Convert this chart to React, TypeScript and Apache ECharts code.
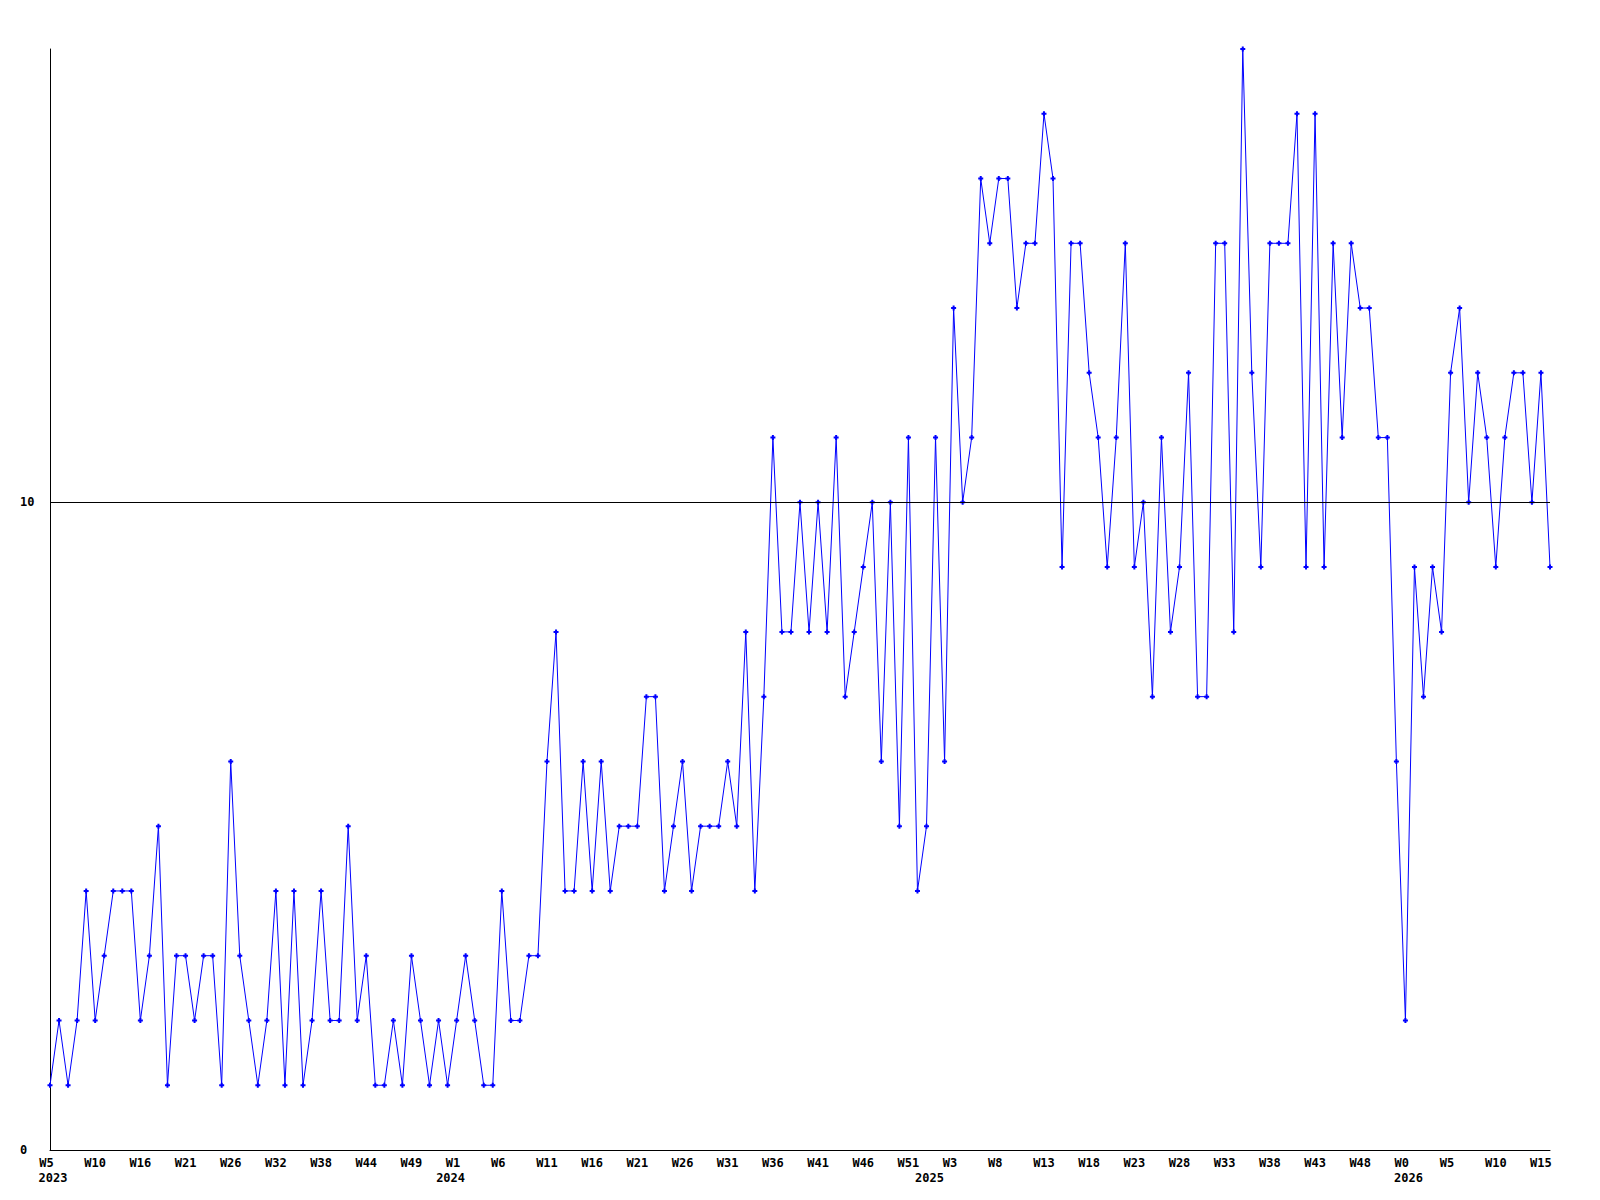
import React, { useEffect, useRef } from 'react';
import * as echarts from 'echarts';

// Weekly values, 2023 W5 .. 2026 W15
const values: number[] = [
  1, 2, 1, 2, 4, 2, 3, 4, 4, 4, 2, 3, 5, 1, 3, 3, 2, 3, 3, 1, 6, 3, 2, 1, 2, 4, 1, 4, 1,
  2, 4, 2, 2, 5, 2, 3, 1, 1, 2, 1, 3, 2, 1, 2, 1, 2, 3, 2, 1, 1, 4, 2, 2, 3, 3, 6,
  8, 4, 4, 6, 4, 6, 4, 5, 5, 5, 7, 7, 4, 5, 6, 4, 5, 5, 5, 6, 5, 8, 4, 7, 11, 8, 8, 10, 8,
  10, 8, 11, 7, 8, 9, 10, 6, 10, 5, 11, 4, 5, 11, 6, 13, 10, 11,
  15, 14, 15, 15, 13, 14, 14, 16, 15, 9, 14, 14, 12, 11, 9, 11, 14, 9, 10, 7, 11, 8, 9, 12, 7, 7, 14,
  14, 8, 17, 12, 9, 14, 14, 14, 16, 9, 16, 9, 14, 11, 14, 13, 13, 11, 11,
  6, 2, 9, 7, 9, 8, 12, 13, 10, 12, 11, 9, 11, 12, 12, 10, 12, 9,
];

// Week tick labels, one every 5 points
const weekTickLabels: string[] = [
  'W5', 'W10', 'W16', 'W21', 'W26', 'W32', 'W38', 'W44', 'W49',
  'W1', 'W6', 'W11', 'W16', 'W21', 'W26', 'W31', 'W36', 'W41', 'W46', 'W51',
  'W3', 'W8', 'W13', 'W18', 'W23', 'W28', 'W33', 'W38', 'W43', 'W48',
  'W0', 'W5', 'W10', 'W15',
];
const weekTickStep = 5;

// Year labels and the point index where each appears
const yearTickLabels: string[] = ['2023', '2024', '2025', '2026'];
const yearTickIndex: number[] = [0, 44, 97, 150];

const yTickLabels = [0, 10];
const refLineValue = 10;

const categories = values.map((_, i) => String(i));

const plusSymbol = 'path://M1.5 0H3.5V1.5H5V3.5H3.5V5H1.5V3.5H0V1.5H1.5Z';

export default function App() {
  const ref = useRef<HTMLDivElement>(null);

  useEffect(() => {
    if (!ref.current) return;
    const chart = echarts.init(ref.current, null, { renderer: 'svg' });
    const font = {
      fontFamily: 'DejaVu Sans Mono',
      fontWeight: 'bold' as const,
      fontSize: 12,
      color: '#000000',
    };
    chart.setOption({
      animation: false,
      backgroundColor: '#ffffff',
      grid: { left: 50, right: 50, top: 49, bottom: 50, containLabel: false },
      xAxis: [
        {
          type: 'category',
          data: categories,
          boundaryGap: false,
          axisLine: { show: true, onZero: false, lineStyle: { color: '#000000', width: 1 } },
          axisTick: { show: false },
          splitLine: { show: false },
          axisLabel: {
            ...font,
            interval: weekTickStep - 1,
            margin: 7,
            formatter: (_v: string, i: number) =>
              (weekTickLabels[Math.round(i / weekTickStep)] ?? '').padEnd(3, '\u00a0'),
          },
        },
        {
          type: 'category',
          data: categories,
          boundaryGap: false,
          position: 'bottom',
          axisLine: { show: false },
          axisTick: { show: false },
          splitLine: { show: false },
          axisLabel: {
            ...font,
            interval: (i: number) => yearTickIndex.includes(i),
            margin: 22,
            padding: [0, 0, 0, 6],
            formatter: (_v: string, i: number) => {
              const k = yearTickIndex.indexOf(i);
              return k >= 0 ? yearTickLabels[k] : '';
            },
          },
        },
      ],
      yAxis: {
        type: 'value',
        min: 0,
        max: 17,
        interval: yTickLabels[1] - yTickLabels[0],
        axisLine: { show: true, lineStyle: { color: '#000000', width: 1 } },
        axisTick: { show: false },
        splitLine: { show: false },
        axisLabel: {
          ...font,
          align: 'left',
          margin: 30,
          showMaxLabel: false,
        },
      },
      series: [
        {
          type: 'line',
          data: values,
          xAxisIndex: 0,
          yAxisIndex: 0,
          showAllSymbol: true,
          symbol: plusSymbol,
          symbolSize: 5,
          lineStyle: { color: '#0000ff', width: 1 },
          itemStyle: { color: '#0000ff' },
          emphasis: { disabled: true },
          markLine: {
            silent: true,
            symbol: ['none', 'none'],
            label: { show: false },
            lineStyle: { color: '#000000', width: 1, type: 'solid' },
            emphasis: { disabled: true },
            data: [{ yAxis: refLineValue }],
          },
          z: 3,
        },
      ],
    });
    return () => chart.dispose();
  }, []);

  return (
    <div
      ref={ref}
      style={{ position: 'absolute', left: 0, top: 0, width: 1600, height: 1200, background: '#fff' }}
    />
  );
}
